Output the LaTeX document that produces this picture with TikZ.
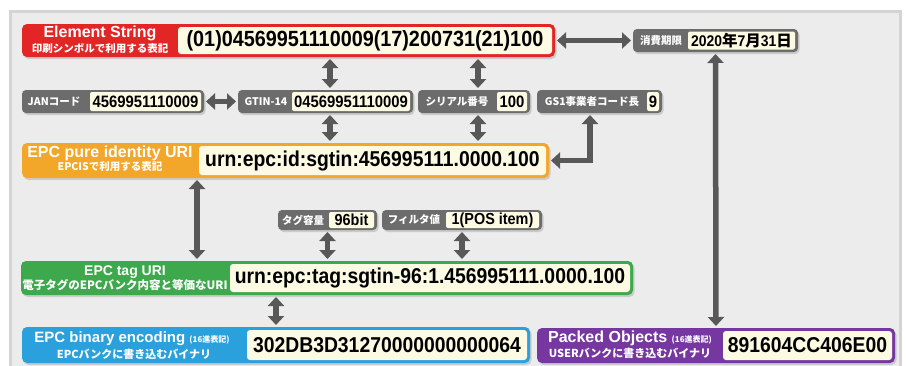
\documentclass[tikz,border=0pt]{standalone}
\usepackage{fontspec}
\setmainfont{Liberation Sans}
\newfontfamily\jp{Noto Sans CJK JP}
\newfontfamily\cond[FakeStretch=0.9]{Liberation Sans}
\usetikzlibrary{arrows.meta,shadows}
\definecolor{panel}{RGB}{236,236,236}
\definecolor{panelborder}{RGB}{212,212,212}
\definecolor{esred}{RGB}{226,38,38}
\definecolor{epcorange}{RGB}{242,166,42}
\definecolor{epcgreen}{RGB}{62,168,76}
\definecolor{epcblue}{RGB}{42,160,220}
\definecolor{pkpurple}{RGB}{118,56,160}
\definecolor{boxgray}{RGB}{108,108,108}
\definecolor{cream}{RGB}{252,250,226}
\definecolor{arrowgray}{RGB}{88,88,88}
\tikzset{
  outerbox/.style={rectangle, rounded corners=5pt, inner sep=0pt, outer sep=0pt,
    drop shadow={opacity=0.3, shadow xshift=1.5pt, shadow yshift=-2pt}},
  creambox/.style={rectangle, rounded corners=3pt, fill=cream, inner sep=0pt, outer sep=0pt,
    font=\cond\bfseries\fontsize{21.5}{22}\selectfont},
  graybox/.style={rectangle, rounded corners=4pt, fill=boxgray, inner sep=0pt, outer sep=0pt,
    minimum height=23pt, drop shadow={opacity=0.3, shadow xshift=1.5pt, shadow yshift=-2pt}},
  graycream/.style={rectangle, rounded corners=2pt, fill=cream, inner sep=0pt, outer sep=0pt,
    font=\cond\bfseries\fontsize{16.5}{17}\selectfont},
  glabel/.style={text=white, inner sep=0pt, font=\jp\bfseries\fontsize{10.5}{11}\selectfont},
  ttl/.style={text=white, inner sep=0pt, font=\bfseries\fontsize{16}{16}\selectfont},
  subt/.style={text=white, inner sep=0pt, font=\jp\bfseries\fontsize{10.5}{11}\selectfont},
  dbl/.style={draw=arrowgray, line width=5.5pt,
    {Triangle[width=16pt,length=9pt]}-{Triangle[width=16pt,length=9pt]},
    shorten <=2pt, shorten >=2pt},
}
\begin{document}
\begin{tikzpicture}[x=1pt,y=-1pt]
\useasboundingbox (0,0) rectangle (906,365);
\fill[white] (0,0) rectangle (906,365);
\begin{scope}
\clip (0,0) rectangle (906,365);
\draw[fill=panel, draw=panelborder, line width=3pt] (10,11) rectangle (900,375);
\end{scope}

% Element String
\node[outerbox, fill=esred, minimum width=533pt, minimum height=33pt] (es) at (288.5,40.5) {};
\node[creambox, minimum width=374pt, minimum height=27pt, font=\cond\bfseries\fontsize{22}{22}\selectfont] (esv) at (365,40.5) {(01)04569951110009(17)200731(21)100};
\node[ttl] (est) at (100,33.5) {Element String};
\node[subt] (ess) at (100,48.5) {印刷シンボルで利用する表記};

% expiry
\node[graybox, minimum width=165pt] (exp) at (715.5,40.5) {};
\node[graycream, minimum width=107pt, minimum height=18pt, font=\cond\bfseries\fontsize{15.5}{16}\selectfont] (expv) at (741.5,40.5) {2020{\jp 年}7{\jp 月}31{\jp 日}};
\node[glabel] (expl) at (661,40.5) {消費期限};

% row 2
\node[graybox, minimum width=182pt] (jan) at (113,101.5) {};
\node[graycream, minimum width=111pt, minimum height=19pt] (janv) at (145.5,101.5) {4569951110009};
\node[glabel] (janl) at (54,101.5) {JANコード};

\node[graybox, minimum width=175pt] (gtin) at (325.5,101.5) {};
\node[graycream, minimum width=118pt, minimum height=19pt] (gtinv) at (351,101.5) {04569951110009};
\node[glabel] (gtinl) at (266,101.5) {GTIN-14};

\node[graybox, minimum width=112pt] (ser) at (474,101.5) {};
\node[graycream, minimum width=30pt, minimum height=19pt] (serv) at (512,101.5) {100};
\node[glabel] (serl) at (457,101.5) {シリアル番号};

\node[graybox, minimum width=125pt] (gs1) at (599.5,101.5) {};
\node[graycream, minimum width=12pt, minimum height=19pt] (gs1v) at (653,101.5) {9};
\node[glabel] (gs1l) at (592,101.5) {GS1事業者コード長};

% EPC pure identity URI
\node[outerbox, fill=epcorange, minimum width=527pt, minimum height=35pt] (pure) at (285.5,160.5) {};
\node[creambox, minimum width=347pt, minimum height=29pt] (purev) at (372.5,160.5) {urn:epc:id:sgtin:456995111.0000.100};
\node[ttl] (puret) at (110,153.5) {EPC pure identity URI};
\node[subt] (pures) at (110,167) {EPCISで利用する表記};

% tag capacity / filter
\node[graybox, minimum width=99pt, minimum height=20pt] (cap) at (327.5,220) {};
\node[graycream, minimum width=45pt, minimum height=16pt, font=\cond\bfseries\fontsize{16}{16}\selectfont] (capv) at (351.5,220) {96bit};
\node[glabel] (capl) at (303,220) {タグ容量};
\node[graybox, minimum width=160pt, minimum height=20pt] (filt) at (462,220) {};
\node[graycream, minimum width=93pt, minimum height=16pt, font=\cond\bfseries\fontsize{16}{16}\selectfont] (filtv) at (492.5,220) {1(POS item)};
\node[glabel] (filtl) at (414,220) {フィルタ値};

% EPC tag URI
\node[outerbox, fill=epcgreen, minimum width=612pt, minimum height=34pt] (tag) at (327,278) {};
\node[creambox, minimum width=400pt, minimum height=28pt] (tagv) at (430,278) {urn:epc:tag:sgtin-96:1.456995111.0000.100};
\node[ttl, font=\bfseries\fontsize{14}{14}\selectfont] (tagt) at (125,272) {EPC tag URI};
\node[subt, font=\jp\bfseries\fontsize{11.5}{12}\selectfont] (tags) at (125,285.5) {電子タグのEPCバンク内容と等価なURI};

% EPC binary encoding
\node[outerbox, fill=epcblue, minimum width=508pt, minimum height=36pt] (bin) at (276,345) {};
\node[creambox, minimum width=280pt, minimum height=30pt] (binv) at (387,345) {302DB3D31270000000000064};
\node[ttl, font=\bfseries\fontsize{15}{15}\selectfont] (bint) at (132,339) {EPC binary encoding {\jp\fontsize{8}{8}\selectfont (16進表記)}};
\node[subt, font=\jp\bfseries\fontsize{11}{11}\selectfont] (bins) at (134,354.5) {EPCバンクに書き込むバイナリ};

% Packed Objects
\node[outerbox, fill=pkpurple, minimum width=358pt, minimum height=35pt] (pk) at (716,345.5) {};
\node[creambox, minimum width=169pt, minimum height=29pt] (pkv) at (807.5,345.5) {891604CC406E00};
\node[ttl] (pkt) at (630,338) {Packed Objects {\jp\fontsize{8}{8}\selectfont (16進表記)}};
\node[subt, font=\jp\bfseries\fontsize{11}{11}\selectfont] (pks) at (630,353.5) {USERバンクに書き込むバイナリ};

% connectors
\coordinate (a1) at (330,0);
\coordinate (a2) at (478,0);
\coordinate (a5) at (590,0);
\coordinate (a6) at (197,0);
\draw[dbl] (es.east) -- (exp.west);
\draw[dbl] (jan.east) -- (gtin.west);
\draw[dbl] (es.south -| a1) -- (gtin.north -| a1);
\draw[dbl] (es.south -| a2) -- (ser.north -| a2);
\draw[dbl] (gtin.south -| a1) -- (pure.north -| a1);
\draw[dbl] (ser.south -| a2) -- (pure.north -| a2);
\draw[dbl] (gs1.south -| a5) |- (pure.east);
\draw[dbl] (pure.south -| a6) -- (tag.north -| a6);
\draw[dbl] (cap.south) -- (cap.south |- tag.north);
\draw[dbl] (filt.south) -- (filt.south |- tag.north);
\draw[dbl] (bin.north) -- (bin.north |- tag.south);
\draw[dbl] (exp.south) -- (pk.north);
\end{tikzpicture}
\end{document}
